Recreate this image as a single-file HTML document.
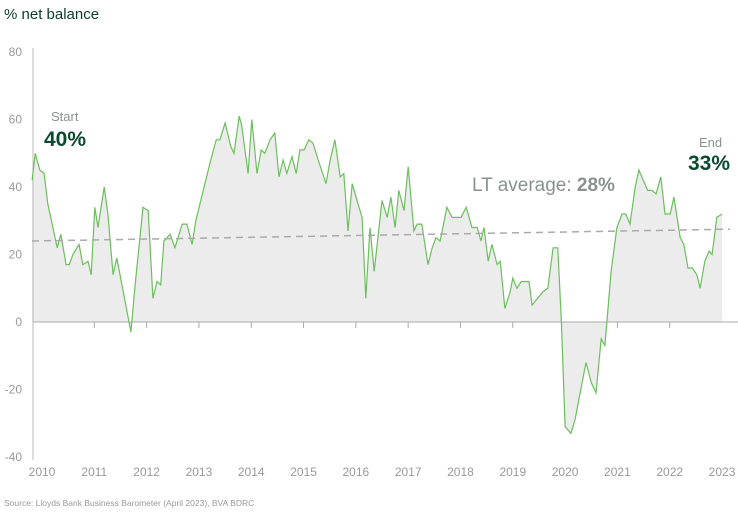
<!DOCTYPE html>
<html><head><meta charset="utf-8"><style>
body{margin:0;background:#fff;width:738px;height:516px;overflow:hidden;font-family:"Liberation Sans",sans-serif}
</style></head><body>
<svg width="738" height="516">
<text x="4" y="19" font-size="15" fill="#0b3d2c">% net balance</text>
<g id="yaxis"></g><g id="xaxis"></g>
<path id="area" fill="#ececec"/>
<line x1="33" y1="322" x2="738" y2="322" stroke="#aaa"/>
<line x1="33" y1="48" x2="33" y2="460" stroke="#bbb"/>
<path id="line" fill="none" stroke="#6cbf5c" stroke-width="1.2"/>
<line id="avg" stroke="#aaa" stroke-width="1.5" stroke-dasharray="7,5"/>
<text x="51" y="121" font-size="13" fill="#8a9290">Start</text>
<text x="44" y="146" font-size="21" font-weight="bold" fill="#0b4a2e">40%</text>
<text x="472" y="191" font-size="19" fill="#8a9290">LT average: <tspan font-weight="bold">28%</tspan></text>
<text x="699" y="147" font-size="13" fill="#8a9290">End</text>
<text x="688" y="170" font-size="21" font-weight="bold" fill="#0b4a2e">33%</text>
<text x="4" y="506" font-size="8.5" fill="#999">Source: Lloyds Bank Business Barometer (April 2023), BVA BDRC</text>
</svg>
<script>
const dates=[2009.81,2009.87,2009.96,2010.04,2010.11,2010.29,2010.36,2010.46,2010.52,2010.59,2010.71,2010.78,2010.88,2010.94,2011.01,2011.07,2011.19,2011.26,2011.36,2011.43,2011.70,2011.78,2011.93,2012.03,2012.12,2012.20,2012.27,2012.33,2012.45,2012.54,2012.68,2012.77,2012.87,2012.94,2013.21,2013.33,2013.40,2013.50,2013.61,2013.67,2013.77,2013.82,2013.94,2014.01,2014.11,2014.19,2014.26,2014.36,2014.45,2014.53,2014.61,2014.68,2014.78,2014.86,2014.93,2015.01,2015.10,2015.18,2015.28,2015.43,2015.51,2015.60,2015.70,2015.77,2015.85,2015.93,2016.04,2016.12,2016.19,2016.27,2016.35,2016.50,2016.60,2016.67,2016.75,2016.82,2016.92,2017.00,2017.11,2017.17,2017.26,2017.38,2017.46,2017.53,2017.61,2017.74,2017.84,2017.93,2018.01,2018.11,2018.22,2018.32,2018.39,2018.45,2018.53,2018.60,2018.70,2018.76,2018.85,2018.95,2019.00,2019.08,2019.16,2019.31,2019.37,2019.42,2019.58,2019.67,2019.77,2019.86,2019.93,2020.00,2020.11,2020.19,2020.30,2020.40,2020.50,2020.59,2020.69,2020.76,2020.88,2020.99,2021.09,2021.16,2021.24,2021.34,2021.41,2021.58,2021.66,2021.74,2021.83,2021.91,2022.01,2022.08,2022.20,2022.27,2022.35,2022.43,2022.52,2022.58,2022.67,2022.75,2022.81,2022.90,2023.00];
const values=[42,50,45,44,35,22,26,17,17,20,23,17,18,14,34,28,40,32,14,19,-3,11,34,33,7,12,11,24,26,22,29,29,23,30,47,54,54,59,52,50,61,58,44,60,44,51,50,54,56,43,48,44,49,44,51,51,54,53,48,41,48,54,43,44,27,41,35,31,7,28,15,36,31,37,28,39,33,46,27,29,29,17,22,25,24,34,31,31,31,34,28,28,24,28,18,23,17,18,4,9,13,10,12,12,5,6,9,10,22,22,0,-31,-33,-29,-20,-12,-18,-21,-5,-7,15,28,32,32,29,40,45,39,39,38,43,32,32,37,25,23,16,16,14,10,18,21,20,31,32];
const yTicks=[80,60,40,20,0,-20,-40];
const xTicks=[2010,2011,2012,2013,2014,2015,2016,2017,2018,2019,2020,2021,2022,2023];
const avgStart=24, avgEnd=27.5;
const X=t=>42+(t-2010)*52.31, Y=v=>322-v*3.375;
const ns="http://www.w3.org/2000/svg";
const ya=document.getElementById('yaxis'), xa=document.getElementById('xaxis');
yTicks.forEach(v=>{const t=document.createElementNS(ns,'text');


t.setAttribute('x',22);t.setAttribute('y',Y(v)+4);t.setAttribute('text-anchor','end');t.setAttribute('font-size','12');t.setAttribute('fill','#999');t.textContent=v;ya.appendChild(t);});
xTicks.forEach(v=>{const t=document.createElementNS(ns,'text');


t.setAttribute('x',X(v));t.setAttribute('y',476);t.setAttribute('text-anchor','middle');t.setAttribute('font-size','12');t.setAttribute('fill','#999');t.textContent=v;xa.appendChild(t);
if(v>2010&&v<2023){const l=document.createElementNS(ns,'line');


l.setAttribute('x1',X(v));l.setAttribute('x2',X(v));l.setAttribute('y1',322);l.setAttribute('y2',328);l.setAttribute('stroke','#aaa');xa.appendChild(l);}});
const pts=dates.map((d,i)=>X(d).toFixed(1)+','+Y(values[i]).toFixed(1));
document.getElementById('line').setAttribute('d','M'+pts.join('L'));
document.getElementById('area').setAttribute('d','M'+X(dates[0])+','+Y(0)+'L'+pts.join('L')+'L'+X(dates[dates.length-1])+','+Y(0)+'Z');
const a=document.getElementById('avg');
a.setAttribute('x1',X(dates[0]));a.setAttribute('y1',Y(avgStart));a.setAttribute('x2',730);a.setAttribute('y2',Y(avgEnd));
</script>
</body></html>
